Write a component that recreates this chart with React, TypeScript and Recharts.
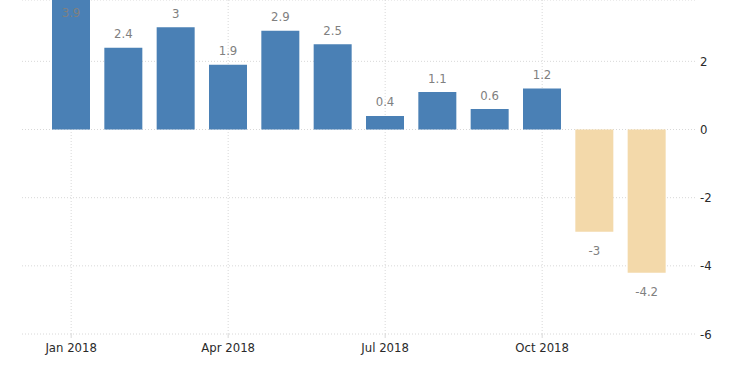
import React from 'react';
import { BarChart, Bar, XAxis, YAxis, CartesianGrid, Cell, LabelList, ReferenceLine } from 'recharts';

const months = [
  'Jan 2018', 'Feb 2018', 'Mar 2018', 'Apr 2018', 'May 2018', 'Jun 2018',
  'Jul 2018', 'Aug 2018', 'Sep 2018', 'Oct 2018', 'Nov 2018', 'Dec 2018',
];
const values = [3.9, 2.4, 3, 1.9, 2.9, 2.5, 0.4, 1.1, 0.6, 1.2, -3, -4.2];
const yTicks = [-6, -4, -2, 0, 2];
const gridMonths = ['Jan 2018', 'Apr 2018', 'Jul 2018', 'Oct 2018'];

const data = months.map((m, i) => ({ month: m, value: values[i] }));

const FONT = '"DejaVu Sans Condensed", "DejaVu Sans", sans-serif';

const ValueLabel = (props: any) => {
  const { x, y, width, height, value } = props;
  const top = Math.min(y, y + height);
  const bottom = Math.max(y, y + height);
  const cx = x + width / 2;
  const cy = value >= 0 ? Math.max(top - 14, 12) : bottom + 19;
  return (
    <text x={cx} y={cy} textAnchor="middle" dominantBaseline="central" fill="#808080" fontSize={13} fontFamily={FONT}>
      {value}
    </text>
  );
};

export default function App() {
  return (
    <div style={{ position: 'absolute', left: 0, top: 0, width: 750, height: 375, background: '#fff' }}>
      <BarChart width={750} height={375} data={data} margin={{ top: 0, right: 0, bottom: 11, left: 22 }}>
        <CartesianGrid stroke="#d8d8d8" strokeDasharray="1 2" vertical={false} />
        {/* vertical grid only at labelled months, kept behind the bars */}
        {gridMonths.map((m) => (
          <ReferenceLine key={m} x={m} stroke="#d8d8d8" strokeDasharray="1 2" {...({ zIndex: -50 } as any)} />
        ))}
        <XAxis
          dataKey="month"
          interval={2}
          padding={{ left: 23, right: 22 }}
          axisLine={false}
          tickLine={{ stroke: '#d8d8d8' }}
          tickSize={4}
          height={30}
          tick={{ fontSize: 13, fill: '#2a2a2a', fontFamily: FONT, dy: 3 }}
        />
        <YAxis
          orientation="right"
          domain={[-6, 3.8]}
          allowDataOverflow
          ticks={yTicks}
          axisLine={false}
          tickLine={false}
          width={55}
          tick={{ fontSize: 13, fill: '#2a2a2a', fontFamily: FONT, textAnchor: 'start', dx: -3 }}
        />
        <Bar dataKey="value" barSize={38} isAnimationActive={false}>
          {data.map((d, i) => (
            <Cell key={i} fill={d.value >= 0 ? '#4a80b5' : '#f3d9aa'} />
          ))}
          <LabelList dataKey="value" content={ValueLabel} />
        </Bar>
      </BarChart>
    </div>
  );
}
